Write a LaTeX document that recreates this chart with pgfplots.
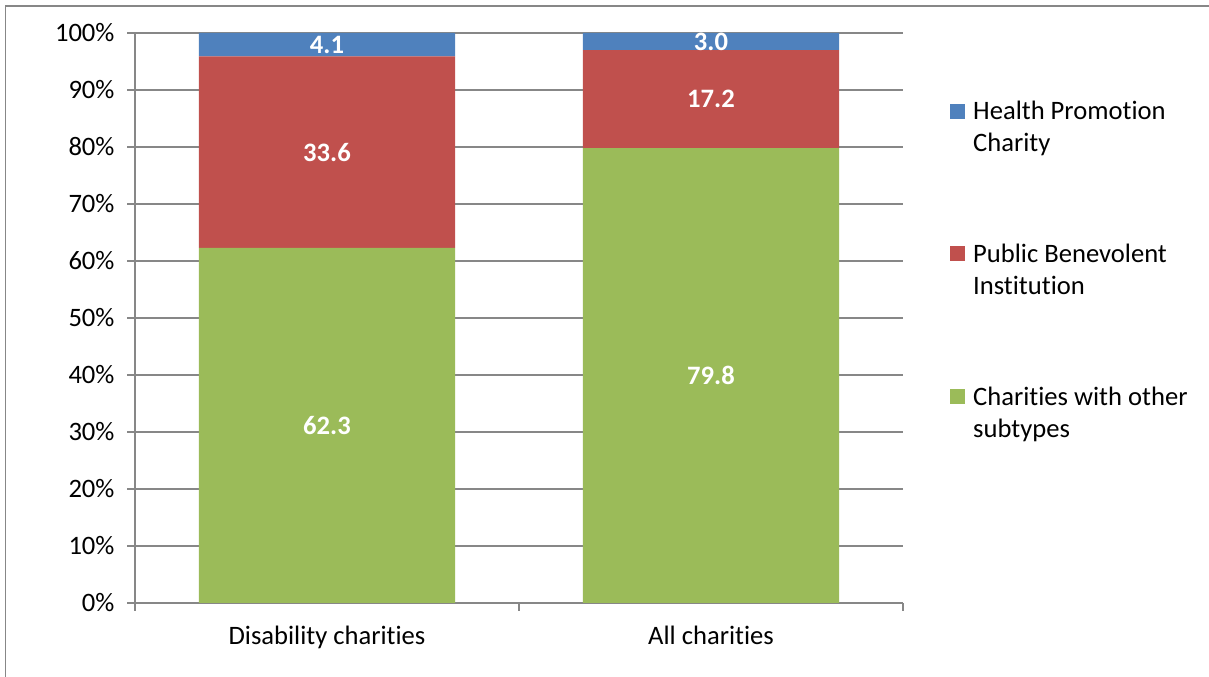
\documentclass[border=0pt]{standalone}
\usepackage{pgfplots}
\pgfplotsset{compat=1.18}
\usepackage{pgfplotstable}
\usepackage{fontspec}
\setmainfont{Carlito}[Ligatures=NoCommon]
\definecolor{hpblue}{HTML}{4F81BD}
\definecolor{pbred}{HTML}{C0504D}
\definecolor{otgreen}{HTML}{9BBB59}
\definecolor{gridgray}{HTML}{878787}
\pgfplotstableread{
x v
0 62.3
1 79.8
}\other
\pgfplotstableread{
x v
0 33.6
1 17.2
}\pbi
\pgfplotstableread{
x v
0 4.1
1 3.0
}\hpc
\begin{document}
\begin{tikzpicture}
\useasboundingbox (0bp,0bp) rectangle (1209bp,677bp);
\draw[gridgray, line width=1.5bp] (5.5bp,-5bp) -- (5.5bp,671bp) -- (1215bp,671bp);
\begin{axis}[
  at={(135bp,74bp)}, anchor=south west,
  scale only axis, width=768bp, height=570bp,
  ybar stacked, bar width=0.6667,
  xmin=-0.5, xmax=1.5, ymin=0, ymax=100,
  xtick={0,1}, xticklabels={Disability charities, All charities},
  minor xtick={-0.5,0.5,1.5},
  ytick={0,10,...,100},
  yticklabels={0\%,10\%,20\%,30\%,40\%,50\%,60\%,70\%,80\%,90\%,100\%},
  axis lines=left,
  axis line style={-, gridgray, line width=1.2bp},
  tick align=outside,
  major tick length=8bp, minor tick length=8bp,
  major x tick style={draw=none},
  tick style={gridgray, line width=1.2bp},
  ymajorgrids, grid style={gridgray, line width=1.2bp},
  tick label style={font=\fontsize{26.7}{32}\selectfont, text=black},
  yticklabel style={xshift=-9bp},
  xticklabel style={yshift=-12bp},
  point meta=explicit,
  nodes near coords={\pgfmathprintnumber[assume math mode=true,fixed,fixed zerofill,precision=1]{\pgfplotspointmeta}},
  every node near coord/.append style={font=\bfseries\fontsize{26.7}{32}\selectfont, text=white},
  reverse legend,
  legend cell align=left,
  legend style={draw=none, fill=none, at={(1,1)}, anchor=north west, xshift=47bp, yshift=-68bp, inner sep=0pt,
    font=\fontsize{26.7}{32}\selectfont, row sep=91bp, column sep=8bp,
    nodes={align=left, inner sep=0pt}},
  legend image code/.code={\fill[#1] (0bp,8.5bp) rectangle (15bp,23.5bp);},
]
\addplot[fill=otgreen, draw=none] table[x=x, y=v, meta=v] {\other};
\addplot[fill=pbred, draw=none] table[x=x, y=v, meta=v] {\pbi};
\addplot[fill=hpblue, draw=none] table[x=x, y=v, meta=v] {\hpc};
\legend{Charities with other\\subtypes, Public Benevolent\\Institution, Health Promotion\\Charity}
\end{axis}
\end{tikzpicture}
\end{document}
